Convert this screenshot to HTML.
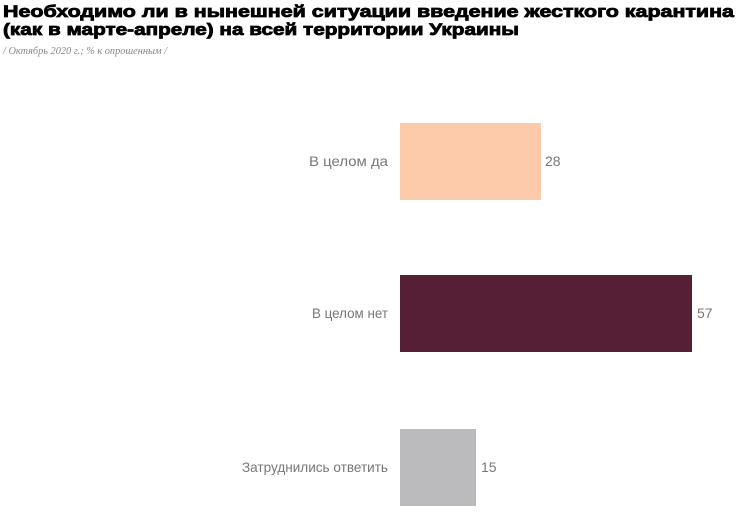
<!DOCTYPE html>
<html><head><meta charset="utf-8"><style>
html,body{margin:0;padding:0;background:#fff;width:756px;height:516px;overflow:hidden}
</style></head><body>
<svg width="756" height="516" xmlns="http://www.w3.org/2000/svg">
<g font-family="Liberation Sans, sans-serif" font-weight="bold" font-size="17" fill="#000" stroke="#000" stroke-width="0.8">
<text x="3" y="17" textLength="731" lengthAdjust="spacingAndGlyphs">Необходимо ли в нынешней ситуации введение жесткого карантина</text>
<text x="3" y="35" textLength="516" lengthAdjust="spacingAndGlyphs">(как в марте-апреле) на всей территории Украины</text>
</g>
<text x="3" y="54" font-family="Liberation Serif, serif" font-style="italic" font-size="10" fill="#888" textLength="164" lengthAdjust="spacingAndGlyphs">/ Октябрь 2020 г.; % к опрошенным /</text>
<rect x="400" y="123" width="141" height="77" fill="#fdcba9"/>
<rect x="400" y="275" width="292" height="77" fill="#561f36"/>
<rect x="400" y="429" width="76" height="77" fill="#bbbbbd"/>
<g font-family="Liberation Sans, sans-serif" font-size="14" fill="#777">
<text x="388" y="166" text-anchor="end" textLength="79" lengthAdjust="spacingAndGlyphs">В целом да</text>
<text x="388" y="318" text-anchor="end" textLength="76" lengthAdjust="spacingAndGlyphs">В целом нет</text>
<text x="388" y="472" text-anchor="end" textLength="146" lengthAdjust="spacingAndGlyphs">Затруднились ответить</text>
<text x="545" y="166">28</text>
<text x="697" y="318">57</text>
<text x="481" y="472">15</text>
</g>
</svg>
</body></html>
